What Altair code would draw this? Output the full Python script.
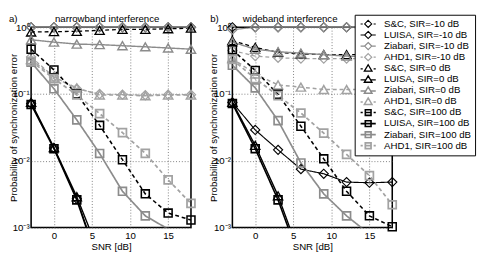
import altair as alt
import pandas as pd

FONT = "Liberation Sans"

SNR = [-3, 0, 3, 6, 9, 12, 15, 18]

SERIES = [
    "S&C, SIR=-10 dB", "LUISA, SIR=-10 dB", "Ziabari, SIR=-10 dB", "AHD1, SIR=-10 dB",
    "S&C, SIR=0 dB", "LUISA, SIR=0 dB", "Ziabari, SIR=0 dB", "AHD1, SIR=0 dB",
    "S&C, SIR=100 dB", "LUISA, SIR=100 dB", "Ziabari, SIR=100 dB", "AHD1, SIR=100 dB",
]
MARKERS = ["diamond"] * 4 + ["triangle"] * 4 + ["square"] * 4
COLORS = ["#000000", "#000000", "#8c8c8c", "#a2a2a2"] * 3
WIDTHS = [1.1, 1.8, 1.0, 1.0] * 3
DASHES = [[4, 3], [1, 0], [1, 0], [4, 3]] * 3

# narrowband interference (panel a)
NB_SC_M10 = [1.0, 1.0, 1.0, 1.0, 1.0, 1.0, 1.0, 1.0]
NB_LUISA_M10 = [0.072, 0.0155, 0.0027, 0.00028]
NB_ZIA_M10 = [1.0, 1.0, 1.0, 1.0, 1.0, 1.0, 1.0, 1.0]
NB_AHD_M10 = [0.36, 0.18, 0.12, 0.1, 0.098, 0.096, 0.098, 0.098]
NB_SC_0 = [0.85, 0.86, 0.87, 0.9, 0.93, 0.93, 0.95, 0.97]
NB_LUISA_0 = [0.075, 0.0158, 0.0029, 0.0004]
NB_ZIA_0 = [0.65, 0.6, 0.56, 0.55, 0.53, 0.51, 0.49, 0.47]
NB_AHD_0 = [0.33, 0.18, 0.123, 0.097, 0.097, 0.094, 0.097, 0.097]
NB_SC_100 = [0.47, 0.23, 0.10, 0.034, 0.0104, 0.0032, 0.00165, 0.0013]
NB_LUISA_100 = [0.07, 0.0152, 0.0026, 0.00026]
NB_ZIA_100 = [0.30, 0.12, 0.041, 0.0129, 0.0035, 0.0015, 0.00095, 0.0004]
NB_AHD_100 = [0.31, 0.17, 0.097, 0.051, 0.0264, 0.0129, 0.0052, 0.0023]

# wideband interference (panel b)
WB_SC_M10 = [1.0, 1.0, 1.0, 1.0, 1.0, 1.0, 1.0, 1.0]
WB_LUISA_M10 = [0.075, 0.029, 0.0146, 0.0075, 0.0064, 0.0048, 0.0047, 0.0048]
WB_ZIA_M10 = [0.92, 1.0, 1.0, 1.0, 1.0, 1.0, 1.0, 1.0]
WB_AHD_M10 = [0.45, 0.37, 0.35, 0.34, 0.34, 0.34, 0.34, 0.34]
WB_SC_0 = [0.63, 0.5, 0.42, 0.4, 0.39, 0.39, 0.39, 0.39]
WB_LUISA_0 = [0.075, 0.017, 0.003, 0.00035]
WB_ZIA_0 = [0.6, 0.47, 0.43, 0.41, 0.39, 0.37, 0.36, 0.35]
WB_AHD_0 = [0.34, 0.2, 0.137, 0.127, 0.117, 0.117, 0.117, 0.117]
WB_SC_100 = [0.46, 0.226, 0.099, 0.033, 0.0107, 0.0035, 0.0015, 0.00103]
WB_LUISA_100 = [0.072, 0.0152, 0.0026, 0.0003]
WB_ZIA_100 = [0.27, 0.124, 0.04, 0.0093, 0.0032, 0.0015, 0.0008]
WB_AHD_100 = [0.33, 0.17, 0.095, 0.052, 0.026, 0.0125, 0.006, 0.0022]

NB = [NB_SC_M10, NB_LUISA_M10, NB_ZIA_M10, NB_AHD_M10, NB_SC_0, NB_LUISA_0,
      NB_ZIA_0, NB_AHD_0, NB_SC_100, NB_LUISA_100, NB_ZIA_100, NB_AHD_100]
WB = [WB_SC_M10, WB_LUISA_M10, WB_ZIA_M10, WB_AHD_M10, WB_SC_0, WB_LUISA_0,
      WB_ZIA_0, WB_AHD_0, WB_SC_100, WB_LUISA_100, WB_ZIA_100, WB_AHD_100]


def frame(vals):
    rows = []
    for name, mk, ys in zip(SERIES, MARKERS, vals):
        for x, v in zip(SNR, ys):
            rows.append({"series": name, "marker": mk, "snr": x, "value": v})
    return pd.DataFrame(rows)


# legend symbols: line segment(s) + marker drawn as one custom path
DIA = "M0,-0.82L0.82,0L0,0.82L-0.82,0Z"
TRI = "M0,-0.8L0.88,0.68L-0.88,0.68Z"
SQR = "M-0.66,-0.66H0.66V0.66H-0.66Z"
SOLID_D = "M-1.75,0H-0.82M0.82,0H1.75"
DASH_D = "M-1.75,0H-1.25M1.25,0H1.75"
SOLID_T = "M-1.75,0.15H-0.6M0.6,0.15H1.75"
DASH_T = "M-1.75,0.15H-1.25M1.25,0.15H1.75"
SOLID_S = "M-1.75,0H1.75"
DASH_S = "M-1.75,0H-1.25M-0.66,0H0.66M1.25,0H1.75"
PATHS = [
    DASH_D + DIA, SOLID_D + DIA, SOLID_D + DIA, DASH_D + DIA,
    DASH_T + TRI, SOLID_T + TRI, SOLID_T + TRI, DASH_T + TRI,
    DASH_S + SQR, SOLID_S + SQR, SOLID_S + SQR, DASH_S + SQR,
]

YLAB = ("datum.value >= 0.5 ? '10⁰' : datum.value >= 0.05 ? '10⁻¹' : "
        "datum.value >= 0.005 ? '10⁻²' : '10⁻³'")

W, H = 166, 208


def panel(vals, title, title_x, letter, ytitle_x, with_legend):
    df = frame(vals)
    base = alt.Chart(df)
    x = alt.X("snr:Q", scale=alt.Scale(domain=[-3, 18], nice=False, zero=False),
              axis=alt.Axis(values=[0, 5, 10, 15], title="SNR [dB]", labelPadding=3,
                            titlePadding=2, labelFlush=False))
    y = alt.Y("value:Q", scale=alt.Scale(type="log", domain=[0.001, 1], nice=False),
              axis=alt.Axis(values=[1, 0.1, 0.01, 0.001], labelExpr=YLAB,
                            title="Probability of synchronization error",
                            titleX=ytitle_x, titleY=H / 2, titleAngle=270,
                            titleAlign="center", titleBaseline="top", labelPadding=2,
                            labelFlush=False))
    color = alt.Color("series:N", scale=alt.Scale(domain=SERIES, range=COLORS), legend=None)
    sw = alt.StrokeWidth("series:N", scale=alt.Scale(domain=SERIES, range=WIDTHS), legend=None)
    dash = alt.StrokeDash("series:N", scale=alt.Scale(domain=SERIES, range=DASHES), legend=None)

    layers = [base.mark_line(clip=True).encode(x=x, y=y, color=color, strokeWidth=sw,
                                               strokeDash=dash)]
    for mk, shp, sz in [("diamond", "diamond", 90), ("triangle", "triangle-up", 92),
                        ("square", "square", 68)]:
        layers.append(
            base.transform_filter((alt.datum.marker == mk) & (alt.datum.value >= 0.001))
            .mark_point(shape=shp, size=sz, filled=False, opacity=1)
            .encode(x="snr:Q", y="value:Q", color=color, strokeWidth=sw)
        )
    layers.append(
        alt.Chart(pd.DataFrame({"t": [title]})).mark_text(
            font=FONT, fontSize=10, baseline="bottom", align="center", color="black")
        .encode(text="t:N", x=alt.value(title_x), y=alt.value(-3))
    )
    layers.append(
        alt.Chart(pd.DataFrame({"t": [letter]})).mark_text(
            font=FONT, fontSize=10, baseline="bottom", align="left", color="black")
        .encode(text="t:N", x=alt.value(-23), y=alt.value(-3))
    )
    data_layer = alt.layer(*layers)
    if not with_legend:
        return data_layer.properties(width=W, height=H)

    leg = alt.Legend(title=None, orient="none", legendX=127, legendY=-13, padding=4,
                     strokeColor="black", fillColor="white", cornerRadius=0,
                     symbolSize=81, symbolOffset=4.5, labelOffset=11, labelFontSize=10,
                     labelFont=FONT, labelColor="black", rowPadding=0.5, clipHeight=11,
                     symbolOpacity=1, symbolFillColor="transparent", zindex=1)
    legend_layer = base.mark_point(filled=False, opacity=0).encode(
        x="snr:Q", y="value:Q",
        color=alt.Color("series:N", scale=alt.Scale(domain=SERIES, range=COLORS), legend=leg),
        shape=alt.Shape("series:N", scale=alt.Scale(domain=SERIES, range=PATHS), legend=leg),
        strokeWidth=alt.StrokeWidth("series:N", scale=alt.Scale(domain=SERIES, range=WIDTHS), legend=leg),
    )
    return (
        alt.layer(legend_layer, data_layer)
        .resolve_scale(color="independent", shape="independent", strokeWidth="independent")
        .properties(width=W, height=H)
    )


left = panel(NB, "narrowband interference", 79, "a)", -23, False)
right = panel(WB, "wideband interference", 60, "b)", -24, True)

chart = (
    alt.hconcat(left, right, spacing=9)
    .resolve_scale(color="independent", shape="independent",
                   strokeWidth="independent", strokeDash="independent")
    .properties(padding=0, background="white")
    .configure(font=FONT)
    .configure_view(stroke="black", strokeWidth=1.6)
    .configure_axis(labelFont=FONT, titleFont=FONT, labelFontSize=10, titleFontSize=10,
                    labelColor="black", titleColor="black", titleFontWeight="normal",
                    domain=False, ticks=False, gridColor="#444", gridDash=[1, 2],
                    gridOpacity=0.7, gridWidth=1)
)

chart.save("out.html", embed_options={"renderer": "svg", "actions": False})
